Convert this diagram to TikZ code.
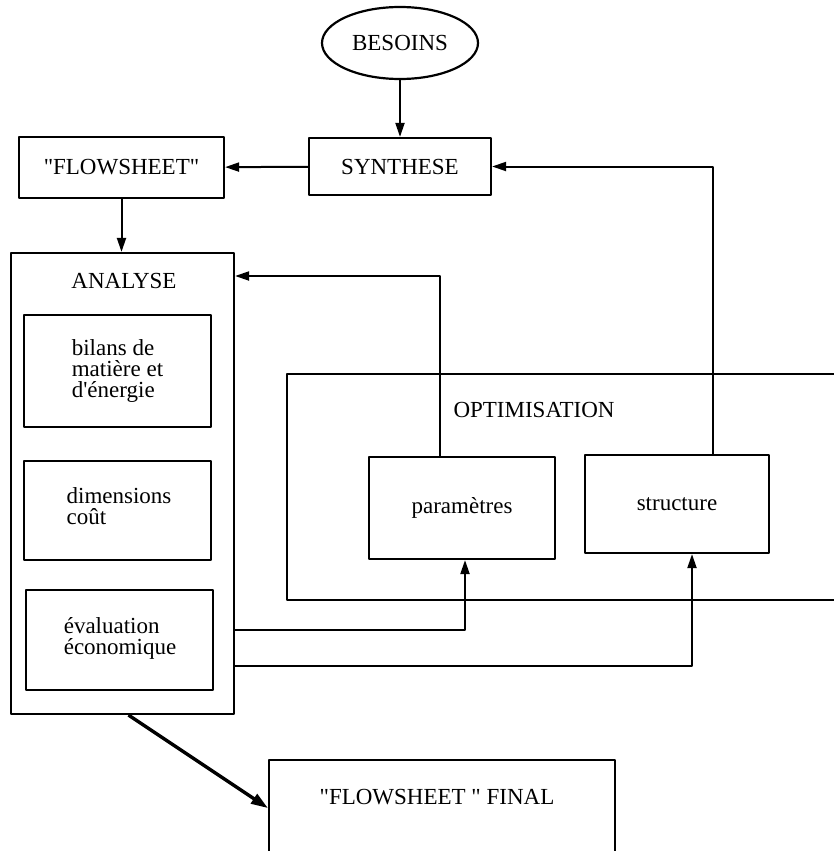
\documentclass[tikz,border=0pt]{standalone}
\usepackage{fontspec}
\setmainfont{Liberation Serif}
\usetikzlibrary{arrows.meta,shapes.geometric}
\begin{document}
\begin{tikzpicture}[x=1pt, y=-1pt, font=\fontsize{23}{21}\selectfont, line join=round,
	>={Triangle[length=14pt,width=9pt]},
	box/.style={draw, line width=2.2pt, inner sep=0pt},
	txt/.style={inner sep=0pt, align=left},
	link/.style={->, line width=2pt}]
	 	\def\xmax{834} \def\ymax{851}
	 	\clip (0,0) rectangle (\xmax,\ymax);
	 	%\draw[color=gray!50,dashed] (0,0) grid[step=50] (\xmax,\ymax);
	 	\node[box, ellipse, minimum width=156pt, minimum height=72pt] (besoins) at (400,43) {BESOINS};
	 	\node[box, minimum width=182pt, minimum height=57pt] (synthese) at (400,166.5) {SYNTHESE};
	 	\node[box, minimum width=205pt, minimum height=61pt] (flowsheet) at (121.5,167.5) {\textquotedbl FLOWSHEET\textquotedbl};
	 	\node[box, minimum width=223pt, minimum height=461pt] (analyse) at (122.5,483.5) {};
	 	\node[txt] (analyselbl) at (124,281) {ANALYSE};
	 	\node[box, minimum width=187pt, minimum height=112pt] (bilans) at (117.5,371) {};
	 	\node[txt] (bilanstxt) at (bilans) {bilans de\\mati\`ere et\\d\textquotesingle\'energie};
	 	\node[box, minimum width=187pt, minimum height=99pt] (dimensions) at (117.5,510.5) {};
	 	\node[txt] (dimensionstxt) at (119,506) {dimensions\\co\^ut};
	 	\node[box, minimum width=187pt, minimum height=100pt] (evaluation) at (119.5,640) {};
	 	\node[txt] (evaluationtxt) at (120,638) {\'evaluation\\\'economique};
	 	\node[box, anchor=north west, minimum width=600pt, minimum height=226pt] (optim) at (286,373) {};
	 	\node[txt] (optimlbl) at (534,410) {OPTIMISATION};
	 	\node[box, minimum width=186pt, minimum height=102pt] (parametres) at (462,508) {param\`etres};
	 	\node[box, minimum width=184pt, minimum height=98pt] (structure) at (677,504) {structure};
	 	\node[box, anchor=north west, minimum width=346pt, minimum height=96pt] (final) at (268,759) {};
	 	\node[txt] (finaltxt) at (437,797) {\textquotedbl FLOWSHEET \textquotedbl\ FINAL};
	 	% liaisons
	 	\coordinate (retpar) at (440,276);
	 	\coordinate (e1) at ([yshift=10pt]evaluation.east);
	 	\coordinate (e2) at ([yshift=-26pt]evaluation.east);
	 	\draw[link] (besoins) -- (synthese);
	 	\draw[link] (synthese) -- (flowsheet);
	 	\draw[link] (flowsheet.south) -- (flowsheet.south |- analyse.north);
	 	\draw[link] ([xshift=-22pt]parametres.north) -- (retpar) -- (retpar -| analyse.east);
	 	\draw[link] ([xshift=36pt]structure.north) |- (synthese.east);
	 	\draw[link] (e1 -| analyse.east) -| ([xshift=3pt]parametres.south);
	 	\draw[link] (e2 -| analyse.east) -| ([xshift=15pt]structure.south);
	 	\draw[->, line width=3.4pt, >={Triangle[length=17pt,width=11pt]}] ([xshift=6pt]analyse.south) -- (final.west);
\end{tikzpicture}
\end{document}
